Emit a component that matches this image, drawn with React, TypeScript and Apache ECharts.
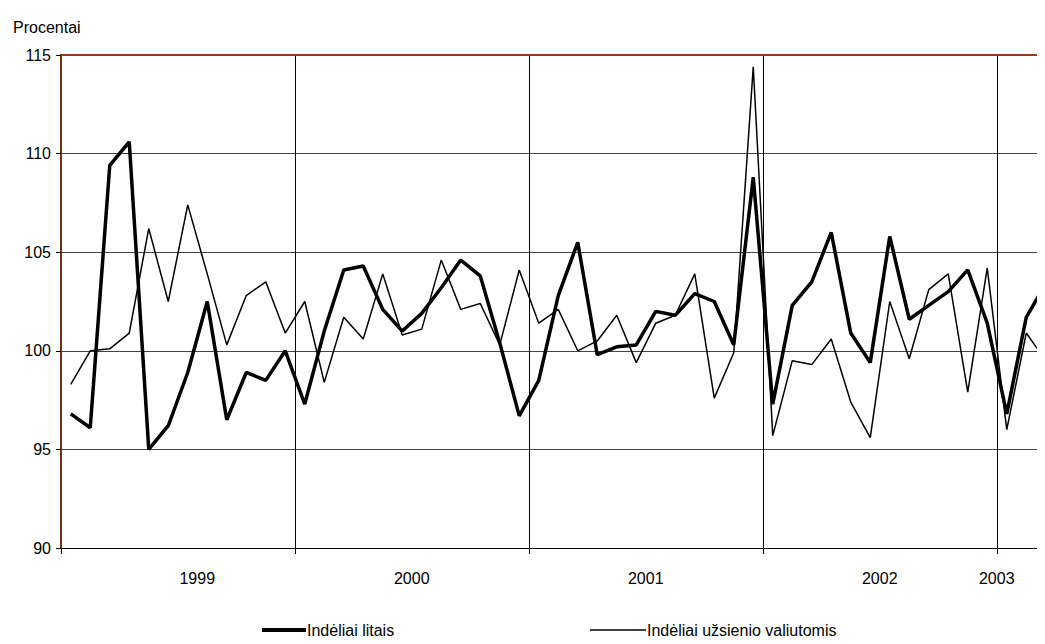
import React, { useEffect, useRef } from "react";
import * as echarts from "echarts";

const months: string[] = [];
for (let y = 1999; y <= 2003; y++) {
  for (let m = 1; m <= 12; m++) {
    if (y === 2003 && m > 3) break;
    months.push(`${y}-${String(m).padStart(2, "0")}`);
  }
}

const yearLabels: Record<number, string> = { 6: "1999", 17: "2000", 29: "2001", 41: "2002", 47: "2003" };

const litais = [
  96.8, 96.1, 109.4, 110.6, 95.0, 96.2, 98.9, 102.5, 96.5, 98.9, 98.5, 100.0,
  97.3, 101.0, 104.1, 104.3, 102.1, 101.0, 101.9, 103.2, 104.6, 103.8, 100.4, 96.7,
  98.5, 102.8, 105.5, 99.8, 100.2, 100.3, 102.0, 101.8, 102.9, 102.5, 100.3, 108.8,
  97.3, 102.3, 103.5, 106.0, 100.9, 99.4, 105.8, 101.6, 102.3, 103.0, 104.1, 101.4,
  96.8, 101.7, 103.4,
];

const valiutomis = [
  98.3, 100.0, 100.1, 100.9, 106.2, 102.5, 107.4, 103.9, 100.3, 102.8, 103.5, 100.9,
  102.5, 98.4, 101.7, 100.6, 103.9, 100.8, 101.1, 104.6, 102.1, 102.4, 100.3, 104.1,
  101.4, 102.1, 100.0, 100.5, 101.8, 99.4, 101.4, 101.8, 103.9, 97.6, 99.9, 114.4,
  95.7, 99.5, 99.3, 100.6, 97.4, 95.6, 102.5, 99.6, 103.1, 103.9, 97.9, 104.2,
  96.0, 100.9, 99.5,
];

const font = "'Liberation Sans', Arial, sans-serif";

export default function App() {
  const ref = useRef<HTMLDivElement | null>(null);

  useEffect(() => {
    if (!ref.current) return;
    const chart = echarts.init(ref.current, undefined, { renderer: "svg" });
    chart.setOption({
      animation: false,
      textStyle: { fontFamily: font },
      grid: { left: 61, width: 994.5, top: 55, height: 493 },
      title: {
        text: "Procentai",
        left: 8,
        top: 14,
        textStyle: { fontFamily: font, fontSize: 16, fontWeight: "normal", color: "#000" },
      },
      legend: [
        {
          data: ["Indėliai litais"],
          left: 257,
          top: 617,
          icon: "rect",
          itemWidth: 44,
          itemHeight: 4,
          itemGap: 4,
          textStyle: { fontFamily: font, fontSize: 16, color: "#000", padding: [0, 0, 0, -4] },
        },
        {
          data: ["Indėliai užsienio valiutomis"],
          left: 585,
          top: 617,
          icon: "rect",
          itemWidth: 56,
          itemHeight: 1.5,
          textStyle: { fontFamily: font, fontSize: 16, color: "#000", padding: [0, 0, 0, -4] },
        },
      ],
      xAxis: [
        {
          type: "category",
          data: months,
          boundaryGap: true,
          axisLine: { lineStyle: { color: "#000", width: 1 } },
          axisTick: { show: true, interval: (i: number) => i % 12 === 0, length: 6, lineStyle: { color: "#000" } },
          splitLine: { show: true, interval: (i: number) => i % 12 === 0, lineStyle: { color: "#000", width: 1 } },
          axisLabel: {
            interval: 0,
            margin: 22,
            fontSize: 16,
            color: "#000",
            padding: [0, 0, 0, 19],
            formatter: (_v: string, i: number) => yearLabels[i] ?? "",
          },
        },
        {
          type: "category",
          position: "top",
          data: months,
          axisLine: { lineStyle: { color: "#a33a10", width: 2 } },
          axisTick: { show: false },
          axisLabel: { show: false },
        },
      ],
      yAxis: {
        type: "value",
        min: 90,
        max: 115,
        interval: 5,
        axisLine: { show: true, lineStyle: { color: "#7a3010", width: 2 } },
        axisTick: { show: true, length: 5, lineStyle: { color: "#000" } },
        splitLine: { lineStyle: { color: "#444", width: 1 } },
        axisLabel: { fontSize: 16, color: "#000", margin: 10 },
      },
      series: [
        {
          name: "Indėliai litais",
          type: "line",
          data: litais,
          symbol: "none",
          itemStyle: { color: "#000" },
          lineStyle: { color: "#000", width: 3.5 },
          z: 3,
        },
        {
          name: "Indėliai užsienio valiutomis",
          type: "line",
          data: valiutomis,
          symbol: "none",
          itemStyle: { color: "#000" },
          lineStyle: { color: "#000", width: 1.5 },
          z: 2,
        },
      ],
    });
    return () => chart.dispose();
  }, []);

  return (
    <div style={{ width: 1045, height: 644, margin: -8, overflow: "hidden" }}>
      <div ref={ref} style={{ width: 1060, height: 644 }} />
    </div>
  );
}
